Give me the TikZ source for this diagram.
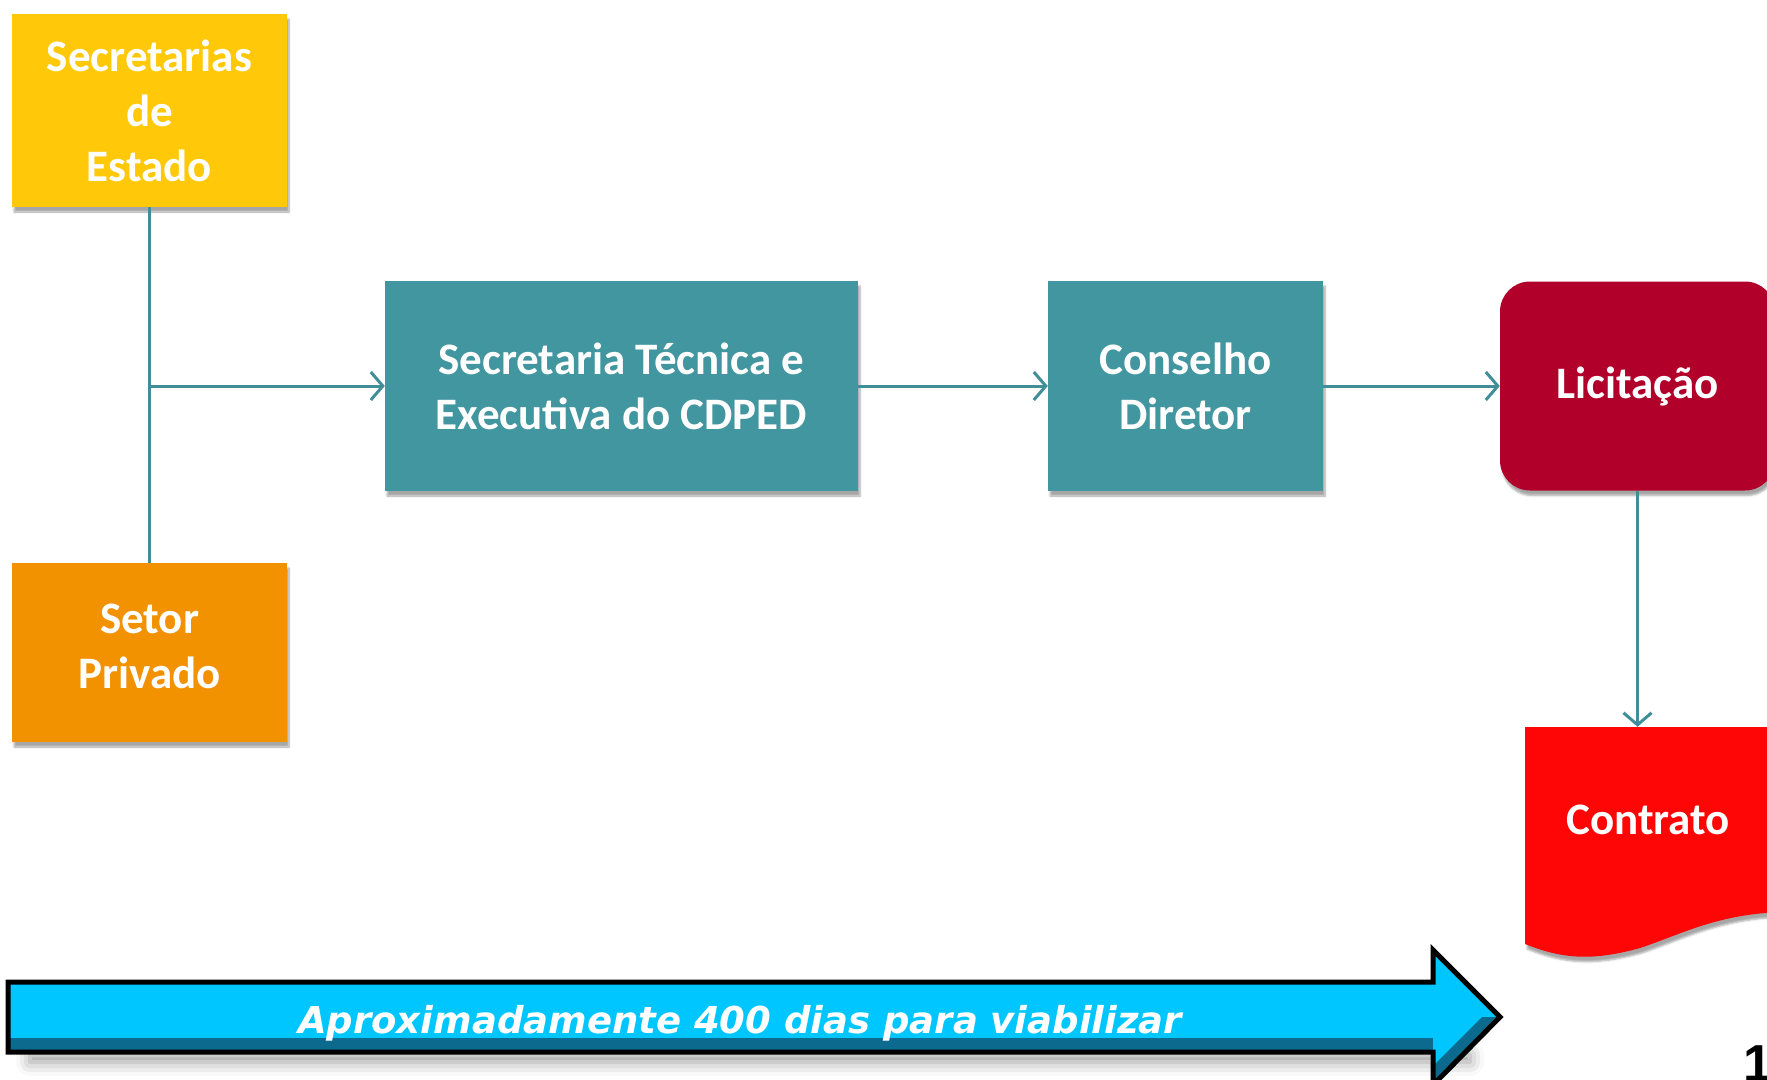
\documentclass[tikz,border=0pt]{standalone}
\usepackage{fontspec}
\setmainfont{Carlito}
\newfontfamily\verdfont{DejaVu Sans}
\newfontfamily\arialfont{Liberation Sans}
\usepackage{tikz}
\usetikzlibrary{arrows.meta,shadows.blur}
\definecolor{gold}{HTML}{FFC90A}
\definecolor{laranja}{HTML}{F29200}
\definecolor{petroleo}{HTML}{42969F}
\definecolor{linha}{HTML}{3F8E98}
\definecolor{vinho}{HTML}{B1002A}
\definecolor{vermelho}{HTML}{FF0606}
\definecolor{ciano}{HTML}{00C6FF}
\definecolor{cianoesc}{HTML}{0B6A8E}

\begin{document}
\begin{tikzpicture}[x=1pt,y=-1pt,
    caixa/.style={rectangle,text=white,align=center,inner sep=0pt,
      font=\bfseries\fontsize{45}{55}\selectfont,
      blur shadow={shadow xshift=2pt,shadow yshift=-5pt,shadow blur steps=6,shadow opacity=35}},
    seta/.style={draw=linha,line width=3pt,-{Straight Barb[length=12pt,width=28pt,line width=3pt]}}]
    \useasboundingbox (0,0) rectangle (1767,1079);
    \clip (0,0) rectangle (1767,1079);
    % caixas
    \node[caixa,fill=gold,minimum width=275pt,minimum height=193pt] (sec) at (149.5,110.5) {Secretarias\\de\\Estado};
    \node[caixa,fill=laranja,minimum width=275pt,minimum height=179pt] (priv) at (149.5,652.5) {Setor\\Privado\\[-43pt]};
    \node[caixa,fill=petroleo,minimum width=473pt,minimum height=210pt] (stec) at (621.5,386) {Secretaria Técnica e\\Executiva do CDPED};
    \node[caixa,fill=petroleo,minimum width=275pt,minimum height=210pt] (cons) at (1185.5,386) {Conselho\\Diretor};
    \node[caixa,fill=vinho,rounded corners=30pt,minimum width=275pt,minimum height=209pt] (lic) at (1637.5,386) {Licitação};
    % documento
    \fill[vermelho,blur shadow={shadow xshift=2pt,shadow yshift=-5pt,shadow opacity=35}]
      (1525,727) -- (1790,727) -- (1790,912)
      .. controls (1720,912) and (1680,935) .. (1640,948)
      .. controls (1590,962) and (1560,958) .. (1525,944) -- cycle;
    \node[minimum width=265pt,minimum height=228pt,inner sep=0pt] (con) at (1657.5,841) {};
    \node[text=white,font=\bfseries\fontsize{45}{55}\selectfont] (contxt) at (1648,820) {Contrato};
    % conectores
    \coordinate (j) at (sec.south |- stec.west);
    \draw[draw=linha,line width=3pt] (sec.south) -- (priv.north);
    \draw[seta] (j) -- (stec.west);
    \draw[seta] (stec.east) -- (cons.west);
    \draw[seta] (cons.east) -- (lic.west);
    \draw[seta] (lic.south) -- (lic.south |- con.north);
    % seta do prazo
    \fill[white,blur shadow={shadow xshift=0pt,shadow yshift=-10pt,shadow blur radius=14pt,shadow opacity=40}]
      (30,1045) rectangle (1470,1052);
    \fill[ciano] (8,982) -- (1433,982) -- (1433,950) -- (1500,1017) -- (1433,1085)
      -- (1433,1052) -- (8,1052) -- cycle;
    \fill[cianoesc] (8,1038) rectangle (1433,1052);
    \fill[cianoesc] (1500,1017) -- (1433,1085) -- (1433,1066) -- (1482,1017) -- cycle;
    \draw[black,line width=5pt,line join=miter] (8,982) -- (1433,982) -- (1433,950) -- (1500,1017)
      -- (1433,1085) -- (1433,1052) -- (8,1052) -- cycle;
    \node[text=white,font=\verdfont\bfseries\itshape\fontsize{37}{40}\selectfont] (prazo) at (740,1023) {Aproximadamente 400 dias para viabilizar};
    \node[anchor=base west,inner sep=0pt,font=\arialfont\bfseries\fontsize{52}{52}\selectfont] (pag) at (1743,1081) {1};
\end{tikzpicture}
\end{document}
